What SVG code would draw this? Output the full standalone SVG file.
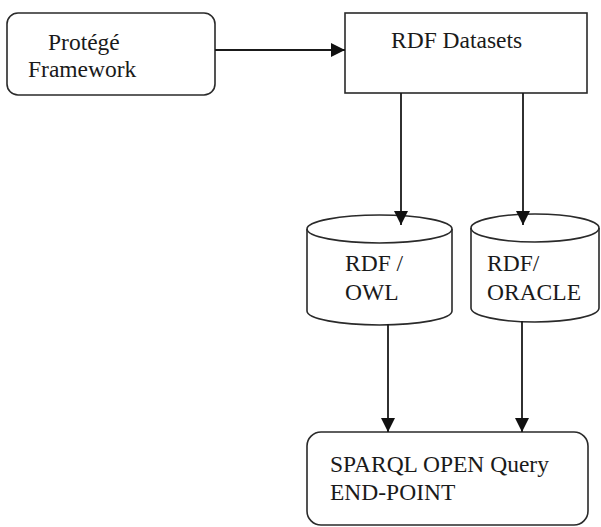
<svg xmlns="http://www.w3.org/2000/svg" width="601" height="527" viewBox="0 0 601 527">
<style>
.shape{fill:#fff;stroke:#2a2a2a;stroke-width:1.6}
.line{fill:none;stroke:#1a1a1a;stroke-width:1.8}
.t{font-family:'Liberation Serif','Times New Roman','DejaVu Serif',serif;font-size:23.5px;fill:#1a1a1a}
</style>
<defs>
<marker id="ah" viewBox="0 0 14 14" refX="14" refY="7" markerWidth="14" markerHeight="14" markerUnits="userSpaceOnUse" orient="auto">
<path d="M0,0 L14,7 L0,14 Z" fill="#111"/>
</marker>
</defs>
<rect width="601" height="527" fill="#fff"/>
<g id="protege">
<rect class="shape" x="7" y="13" width="208" height="82" rx="11"/>
<text class="t" x="48" y="50">Protégé</text>
<text class="t" x="28" y="77">Framework</text>
</g>
<g id="rdf-datasets">
<rect class="shape" x="345" y="13" width="242" height="80"/>
<text class="t" x="391" y="48">RDF Datasets</text>
</g>
<g id="rdf-owl">
<path class="shape" d="M307,229 A72.5,14 0 0 1 452,229 L452,311 A72.5,14 0 0 1 307,311 Z"/>
<path class="shape" style="fill:none" d="M307,229 A72.5,14 0 0 0 452,229"/>
<text class="t" x="345" y="271">RDF /</text>
<text class="t" x="345" y="300">OWL</text>
</g>
<g id="rdf-oracle">
<path class="shape" d="M471,228 A64,14 0 0 1 599,228 L599,308 A64,14 0 0 1 471,308 Z"/>
<path class="shape" style="fill:none" d="M471,228 A64,14 0 0 0 599,228"/>
<text class="t" x="487" y="271">RDF/</text>
<text class="t" x="487" y="300">ORACLE</text>
</g>
<g id="sparql">
<rect class="shape" x="307" y="432" width="281" height="93" rx="14"/>
<text class="t" x="330" y="472">SPARQL OPEN Query</text>
<text class="t" x="330" y="500">END-POINT</text>
</g>
<g id="connectors">
<line class="line" x1="215" y1="50" x2="345" y2="50" marker-end="url(#ah)"/>
<line class="line" x1="401" y1="93" x2="401" y2="225" marker-end="url(#ah)"/>
<line class="line" x1="523" y1="93" x2="523" y2="225" marker-end="url(#ah)"/>
<line class="line" x1="388" y1="324" x2="388" y2="432" marker-end="url(#ah)"/>
<line class="line" x1="522" y1="321" x2="522" y2="432" marker-end="url(#ah)"/>
</g>
</svg>
